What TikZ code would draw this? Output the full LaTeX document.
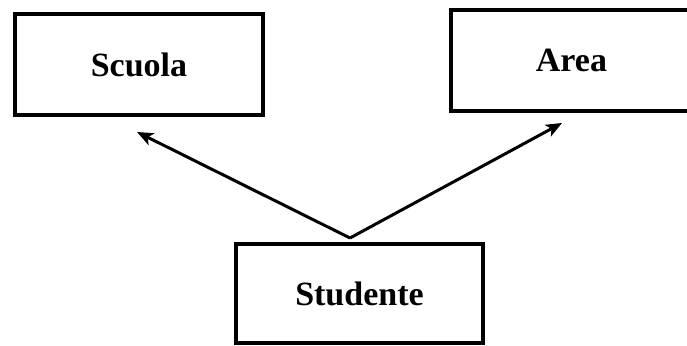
\documentclass[tikz,border=0pt]{standalone}
\usepackage{fontspec}
\setmainfont{Liberation Serif}
\usetikzlibrary{arrows.meta}

\tikzset{
  entity/.style={draw, line width=3.4pt, minimum height=101pt, font=\fontsize{34}{40}\selectfont\bfseries, inner sep=0pt},
  link/.style={line width=3pt, -{Stealth[length=16pt, width=13pt, inset=4pt]}}
}

\begin{document}
\begin{tikzpicture}[x=1pt, y=-1pt]
  \useasboundingbox (0,0) rectangle (687,345);

  % Boxes
  \node[entity, minimum width=248pt] (scuola) at (139,64.5) {Scuola};
  \node[entity, minimum width=241pt] (area) at (571.5,60.5) {Area};
  \node[entity, minimum width=247pt, minimum height=99pt] (studente) at (359.5,293.5) {Studente};

  % Arrow ends
  \coordinate (split) at (350,238);
  \coordinate (scuolatip) at (137,132);
  \coordinate (areatip) at (562,123);

  % Arrows
  \draw[link] (split) -- (scuolatip);
  \draw[link] (split) -- (areatip);

\end{tikzpicture}
\end{document}
